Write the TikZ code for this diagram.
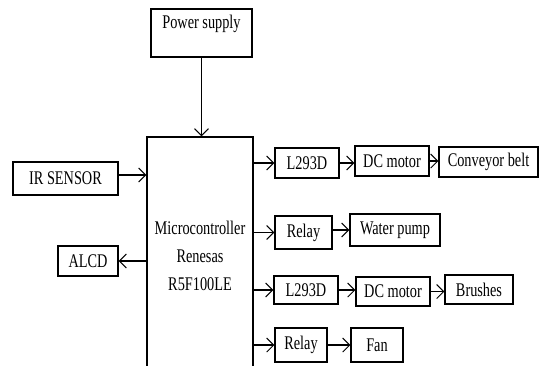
\documentclass[tikz,border=0pt]{standalone}
\usepackage{fontspec}
\setmainfont{Liberation Serif}[FakeStretch=0.74]
\usetikzlibrary{arrows.meta}
\tikzset{
  blk/.style={draw, line width=0.6pt, inner sep=1pt, font=\fontsize{11}{13}\selectfont},
  arr/.style={line width=0.6pt, -{Straight Barb[length=4pt,width=8pt]}}
}
\begin{document}
\begin{tikzpicture}

            \clip (0,0) rectangle (10.78,-7.30);

            % power and controller
            \node[blk, minimum width=2.02cm, minimum height=0.96cm] (power) at (4.03,-0.66) {};
            \node[font=\fontsize{11}{13}\selectfont] (powertxt) at (4.03,-0.47) {Power supply};
            \node[blk, minimum width=2.12cm, minimum height=4.76cm, align=center, font=\fontsize{11}{16}\selectfont] (mcu) at (4.00,-5.12) {Microcontroller\\Renesas\\R5F100LE};

            % left side
            \node[blk, minimum width=2.10cm, minimum height=0.66cm] (ir) at (1.31,-3.57) {IR SENSOR};
            \node[blk, minimum width=1.20cm, minimum height=0.60cm] (alcd) at (1.76,-5.22) {ALCD};

            % right side
            \node[blk, minimum width=1.28cm, minimum height=0.60cm] (drvA) at (6.14,-3.26) {L293D};
            \node[blk, minimum width=1.48cm, minimum height=0.60cm] (motA) at (7.84,-3.22) {DC motor};
            \node[blk, minimum width=1.98cm, minimum height=0.60cm] (belt) at (9.77,-3.24) {Conveyor belt};

            \node[blk, minimum width=1.14cm, minimum height=0.66cm] (relA) at (6.07,-4.65) {Relay};
            \node[blk, minimum width=1.80cm, minimum height=0.64cm] (pump) at (7.90,-4.60) {Water pump};

            \node[blk, minimum width=1.28cm, minimum height=0.56cm] (drvB) at (6.12,-5.80) {L293D};
            \node[blk, minimum width=1.48cm, minimum height=0.58cm] (motB) at (7.86,-5.83) {DC motor};
            \node[blk, minimum width=1.36cm, minimum height=0.58cm] (brush) at (9.58,-5.79) {Brushes};

            \node[blk, minimum width=1.04cm, minimum height=0.68cm] (relB) at (6.02,-6.90) {Relay};
            \node[blk, minimum width=1.04cm, minimum height=0.68cm] (fan) at (7.54,-6.90) {Fan};

            % arrows
            \draw[arr] (power) -- (mcu.north -| power);
            \draw[arr] (ir.east |- 0,-3.50) -- (mcu.west |- 0,-3.50);
            \draw[arr] (mcu.west |- alcd) -- (alcd);

            \draw[arr] (mcu.east |- drvA) -- (drvA);
            \draw[arr] (drvA.east) -- (drvA.east -| motA.west);
            \draw[arr] (motA.east) -- (motA.east -| belt.west);

            \draw[arr] (mcu.east |- relA) -- (relA);
            \draw[arr] (relA.east |- pump) -- (pump);

            \draw[arr] (mcu.east |- drvB) -- (drvB);
            \draw[arr] (drvB.east) -- (drvB.east -| motB.west);
            \draw[arr] (motB.east) -- (motB.east -| brush.west);

            \draw[arr] (mcu.east |- relB) -- (relB);
            \draw[arr] (relB) -- (fan);

\end{tikzpicture}
\end{document}
